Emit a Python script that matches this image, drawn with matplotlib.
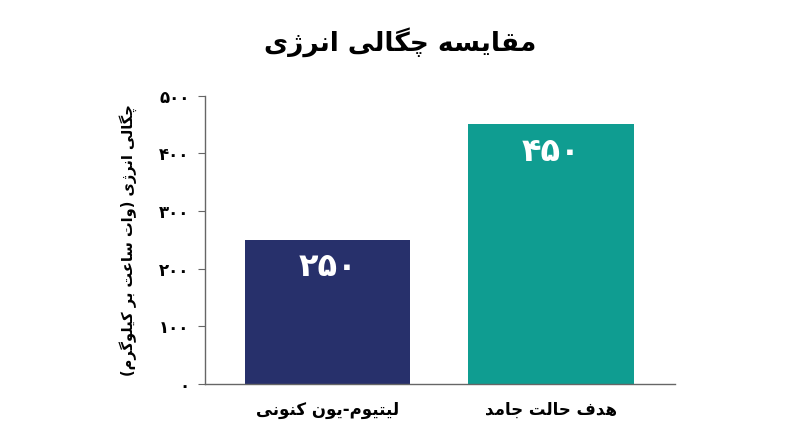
import matplotlib
matplotlib.use("Agg")
import matplotlib.pyplot as plt
from matplotlib.ticker import FuncFormatter

# data
categories = ["لیتیوم-یون کنونی", "هدف حالت جامد"]
values = [250, 450]
colors = ["#27306b", "#0f9d91"]
title = "مقایسه چگالی انرژی"
ylabel = "چگالی انرژی (وات ساعت بر کیلوگرم)"
yticks = [0, 100, 200, 300, 400, 500]

# minimal persian shaping: (isolated, final, initial, medial)
FORMS = {
    "ا": ("\uFE8D", "\uFE8E", None, None),
    "ب": ("\uFE8F", "\uFE90", "\uFE91", "\uFE92"),
    "ت": ("\uFE95", "\uFE96", "\uFE97", "\uFE98"),
    "ج": ("\uFE9D", "\uFE9E", "\uFE9F", "\uFEA0"),
    "ح": ("\uFEA1", "\uFEA2", "\uFEA3", "\uFEA4"),
    "د": ("\uFEA9", "\uFEAA", None, None),
    "ر": ("\uFEAD", "\uFEAE", None, None),
    "ز": ("\uFEAF", "\uFEB0", None, None),
    "س": ("\uFEB1", "\uFEB2", "\uFEB3", "\uFEB4"),
    "ع": ("\uFEC9", "\uFECA", "\uFECB", "\uFECC"),
    "ف": ("\uFED1", "\uFED2", "\uFED3", "\uFED4"),
    "ق": ("\uFED5", "\uFED6", "\uFED7", "\uFED8"),
    "ل": ("\uFEDD", "\uFEDE", "\uFEDF", "\uFEE0"),
    "م": ("\uFEE1", "\uFEE2", "\uFEE3", "\uFEE4"),
    "ن": ("\uFEE5", "\uFEE6", "\uFEE7", "\uFEE8"),
    "ه": ("\uFEE9", "\uFEEA", "\uFEEB", "\uFEEC"),
    "و": ("\uFEED", "\uFEEE", None, None),
    "ی": ("\uFBFC", "\uFBFD", "\uFBFE", "\uFBFF"),
    "ک": ("\uFB8E", "\uFB8F", "\uFB90", "\uFB91"),
    "گ": ("\uFB92", "\uFB93", "\uFB94", "\uFB95"),
    "چ": ("\uFB7A", "\uFB7B", "\uFB7C", "\uFB7D"),
    "ژ": ("\uFB8A", "\uFB8B", None, None),
}
MIRROR = {"(": ")", ")": "("}


def fa(text):
    out = []
    n = len(text)
    for i, ch in enumerate(text):
        if ch not in FORMS:
            out.append(MIRROR.get(ch, ch))
            continue
        prev = text[i - 1] if i > 0 else ""
        nxt = text[i + 1] if i < n - 1 else ""
        join_prev = prev in FORMS and FORMS[prev][2] is not None
        join_next = nxt in FORMS and FORMS[ch][2] is not None
        iso, fin, ini, med = FORMS[ch]
        if join_prev and join_next:
            out.append(med)
        elif join_prev:
            out.append(fin)
        elif join_next:
            out.append(ini)
        else:
            out.append(iso)
    return "".join(reversed(out))


def fa_digits(v):
    return str(int(v)).translate(str.maketrans("0123456789", "۰۱۲۳۴۵۶۷۸۹"))


plt.rcParams["font.family"] = ["DejaVu Sans"]

fig = plt.figure(figsize=(8, 4.47), dpi=100)
ax = fig.add_axes([0.256, 0.141, 0.588, 0.645])

x = list(range(len(categories)))
bars = ax.bar(x, values, width=0.74, color=colors)

for b, v in zip(bars, values):
    ax.text(b.get_x() + b.get_width() / 2, v - 48, fa_digits(v),
            ha="center", va="center", color="white", fontsize=23, fontweight="bold")

ax.set_xlim(-0.55, 1.555)
ax.set_ylim(0, 500)
ax.set_yticks(yticks)
ax.yaxis.set_major_formatter(FuncFormatter(lambda v, p: fa_digits(v)))
ax.set_xticks(x)
ax.set_xticklabels([fa(c) for c in categories], fontsize=12, fontweight="bold")
ax.tick_params(axis="x", length=0, pad=12)
ax.tick_params(axis="y", length=5, color="#666666", labelsize=12, pad=6)
for lab in ax.get_yticklabels():
    lab.set_fontweight("bold")

for s in ["top", "right"]:
    ax.spines[s].set_visible(False)
for s in ["left", "bottom"]:
    ax.spines[s].set_color("#666666")
    ax.spines[s].set_linewidth(1)

ax.set_ylabel(fa(ylabel), fontsize=10.5, fontweight="bold", labelpad=16)
fig.suptitle(fa(title), fontsize=19, fontweight="bold", y=0.94)

fig.savefig("out.png", dpi=100, facecolor="white")
